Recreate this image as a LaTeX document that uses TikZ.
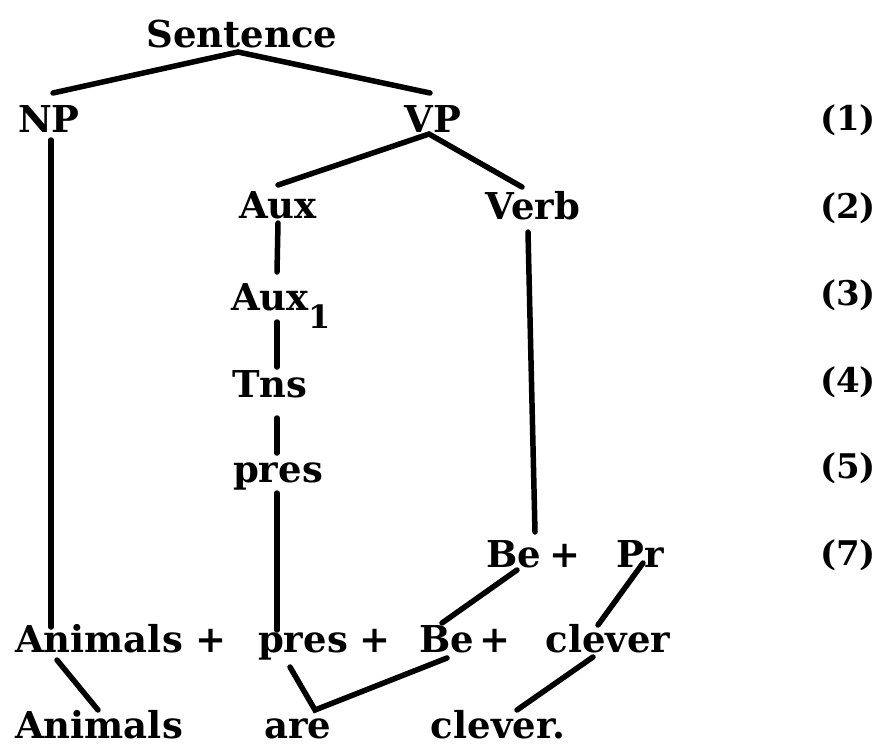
\documentclass[tikz,border=0pt]{standalone}
\usepackage{fontspec}
\setmainfont{DejaVu Serif}
\usetikzlibrary{calc}
\begin{document}
\begin{tikzpicture}[x=1pt,y=-1pt,
  lbl/.style={inner sep=0pt,outer sep=0pt,anchor=base,font=\fontsize{37}{40}\selectfont\bfseries},
  num/.style={inner sep=0pt,outer sep=0pt,anchor=base,font=\fontsize{34}{40}\selectfont\bfseries},
  br/.style={line width=5.5pt,line cap=round,line join=miter}]
\useasboundingbox[fill=white] (0,0) rectangle (879,747);
% labels
\node[lbl] (sentence) at (242,47) {Sentence};
\node[lbl] (np) at (49,132) {NP};
\node[lbl] (vp) at (433,132) {VP};
\node[lbl] (aux) at (278,218) {Aux};
\node[lbl] (verb) at (533,219) {Verb};
\node[lbl] (aux1) at (270,310) {Aux\rlap{\raisebox{-18pt}{\fontsize{32}{34}\selectfont 1}}};
\node[lbl] (tns) at (270,397) {Tns};
\node[lbl] (pres) at (278,482) {pres};
\node[lbl] (beT) at (514,567) {Be};
\node[lbl] (plusT) at (565,567) {+};
\node[lbl] (pr) at (640,567) {Pr};
\node[lbl] (ranimals) at (99,652) {Animals};
\node[lbl] (rplusA) at (211,652) {+};
\node[lbl] (rpres) at (303,652) {pres};
\node[lbl] (rplusB) at (375,652) {+};
\node[lbl] (rbe) at (447,652) {Be};
\node[lbl] (rplusC) at (495,652) {+};
\node[lbl] (rclever) at (608,652) {clever};
\node[lbl] (banimals) at (99,738) {Animals};
\node[lbl] (are) at (298,738) {are};
\node[lbl] (bclever) at (498,738) {clever.};
% step numbers
\node[num] (n1) at (848,130) {(1)};
\node[num] (n2) at (848,218) {(2)};
\node[num] (n3) at (848,305) {(3)};
\node[num] (n4) at (848,392) {(4)};
\node[num] (n5) at (848,478) {(5)};
\node[num] (n7) at (848,565) {(7)};
% branches
\draw[br] ($(np.base)+(4,-39)$) -- ($(sentence.base)+(-4,5)$) -- ($(vp.base)+(-3,-39)$);
\draw[br] ($(np.base)+(2,8)$) -- ($(ranimals.base)+(-48,-25)$);
\draw[br] ($(aux.base)+(0,-33)$) -- ($(vp.base)+(-4,2)$) -- ($(verb.base)+(-11,-32)$);
\draw[br] ($(aux.base)+(0,5)$) -- ($(aux1.base)+(7,-38)$);
\draw[br] ($(aux1.base)+(7,12)$) -- ($(tns.base)+(7,-30)$);
\draw[br] ($(tns.base)+(7,21)$) -- ($(pres.base)+(-1,-29)$);
\draw[br] ($(pres.base)+(-1,11)$) -- ($(rpres.base)+(-26,-22)$);
\draw[br] ($(verb.base)+(-5,13)$) -- ($(beT.base)+(21,-35)$);
\draw[br] ($(beT.base)+(3,3)$) -- ($(rbe.base)+(-5,-29)$);
\draw[br] ($(pr.base)+(3,-4)$) -- ($(rclever.base)+(-10,-27)$);
\draw[br] ($(ranimals.base)+(-42,8)$) -- ($(banimals.base)+(-1,-28)$);
\draw[br] ($(rpres.base)+(-13,15)$) -- ($(are.base)+(17,-28)$) -- ($(rbe.base)+(0,6)$);
\draw[br] ($(rclever.base)+(-15,5)$) -- ($(bclever.base)+(19,-28)$);
\end{tikzpicture}
\end{document}
